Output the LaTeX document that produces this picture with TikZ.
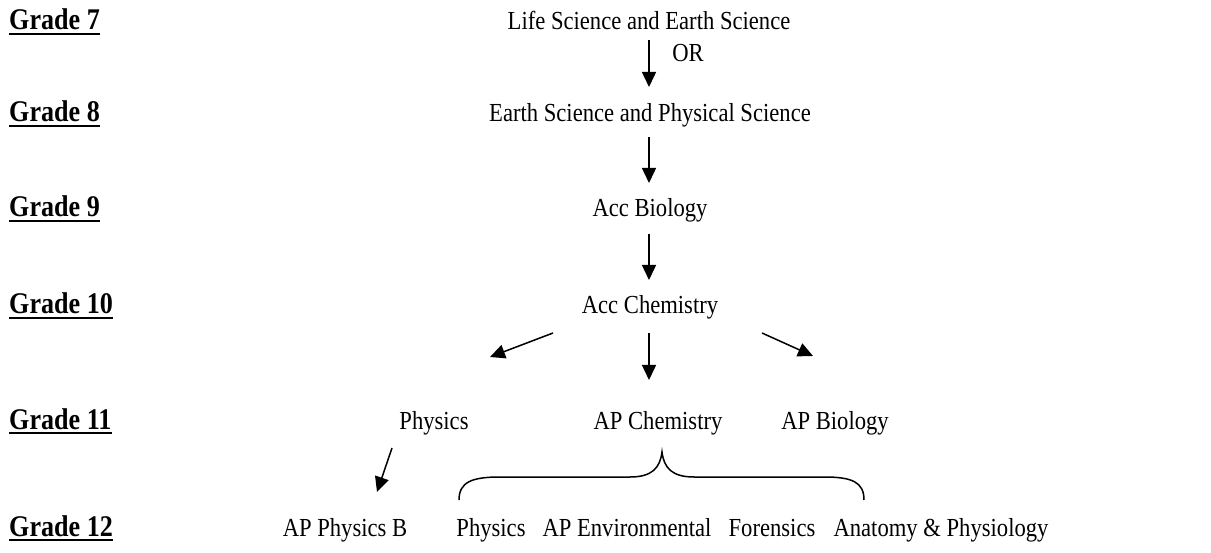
\documentclass[tikz,border=0pt]{standalone}
\usepackage{fontspec}
\setmainfont{Liberation Serif}[FakeStretch=0.87]
\usetikzlibrary{arrows.meta}
\begin{document}
\begin{tikzpicture}[x=1pt,y=-1pt,
 lbl/.style={font=\fontsize{26}{30}\selectfont, inner sep=0pt, anchor=base},
 grade/.style={font=\fontsize{30}{34}\selectfont\bfseries, inner sep=0pt, anchor=base west},
 arr/.style={line width=1.5pt, -{Triangle[length=15pt,width=14pt]}},
 uline/.style={line width=2.8pt},
 bracestyle/.style={line width=1.5pt}]
\useasboundingbox (0,0) rectangle (1211,553);
% grade labels
\foreach \n/\g/\y in {g7/7/30, g8/8/122, g9/9/217, g10/10/314, g11/11/429, g12/12/536}{
  \node[grade] (\n) at (9,\y) {Grade \g};
  \draw[uline] ([yshift=-4pt]\n.base west) -- ([yshift=-4pt]\n.base east);
}
% courses
\node[lbl] (life) at (649,30) {Life Science and Earth Science};
\node[lbl] (or) at (688,62) {OR};
\node[lbl] (earth) at (650,122) {Earth Science and Physical Science};
\node[lbl] (bio) at (650,217) {Acc Biology};
\node[lbl] (chem) at (650,314) {Acc Chemistry};
\node[lbl] (phys) at (434,429) {Physics};
\node[lbl] (apchem) at (658,429) {AP Chemistry};
\node[lbl] (apbio) at (835,429) {AP Biology};
\node[lbl] (apphysb) at (345,536) {AP Physics B};
\node[lbl] (phys12) at (491,536) {Physics};
\node[lbl] (apenv) at (627,536) {AP Environmental};
\node[lbl] (foren) at (772,536) {Forensics};
\node[lbl] (anat) at (941,536) {Anatomy \& Physiology};
% arrow coordinates
\coordinate (a1s) at (649,40);  \coordinate (a1e) at (649,87);
\coordinate (a2s) at (649,137); \coordinate (a2e) at (649,183);
\coordinate (a3s) at (649,234); \coordinate (a3e) at (649,280);
\coordinate (l1s) at (553,333); \coordinate (l1e) at (490,357);
\coordinate (m1s) at (649,333); \coordinate (m1e) at (649,380);
\coordinate (r1s) at (762,333); \coordinate (r1e) at (813,356);
\coordinate (p1s) at (392,448); \coordinate (p1e) at (377,492);
\draw[arr] (a1s) -- (a1e);
\draw[arr] (a2s) -- (a2e);
\draw[arr] (a3s) -- (a3e);
\draw[arr] (l1s) -- (l1e);
\draw[arr] (m1s) -- (m1e);
\draw[arr] (r1s) -- (r1e);
\draw[arr] (p1s) -- (p1e);
% brace
\coordinate (bl) at (459,500);
\coordinate (bt) at (662,452);
\coordinate (br) at (864,500);
\draw[bracestyle] (bl) .. controls (459,482) and (472,477) .. (500,477)
  -- (630,477) .. controls (652,477) and (660,468) .. (bt)
  .. controls (664,468) and (672,477) .. (694,477)
  -- (824,477) .. controls (852,477) and (864,482) .. (br);
\end{tikzpicture}
\end{document}
